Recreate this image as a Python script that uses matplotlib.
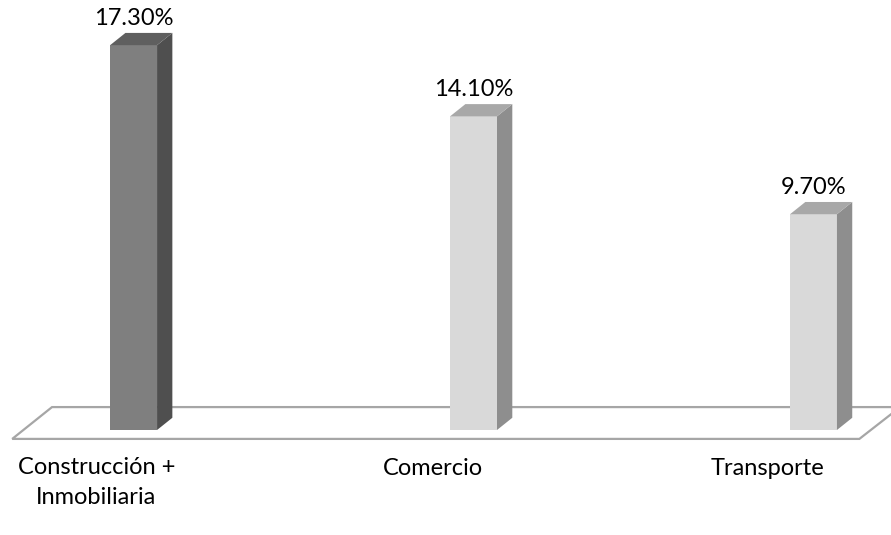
import matplotlib
matplotlib.use("Agg")
import matplotlib.pyplot as plt
from matplotlib.patches import Polygon

categories = ["Construcción +\nInmobiliaria", "Comercio", "Transporte"]
values = [17.30, 14.10, 9.70]
value_labels = ["17.30%", "14.10%", "9.70%"]
front_colors = ["#7f7f7f", "#d9d9d9", "#d9d9d9"]
side_colors = ["#4f4f4f", "#8e8e8e", "#8e8e8e"]
top_colors = ["#5f5f5f", "#a8a8a8", "#a8a8a8"]

W, H = 891, 535
fig = plt.figure(figsize=(W / 100, H / 100), dpi=100)
ax = fig.add_axes([0, 0, 1, 1])
ax.set_xlim(-0.393, 2.228)
ax.set_ylim(-4.72, 19.33)
ax.axis("off")

bar_w = 0.138   # width of the front face (category units)
dx, dy = 0.045, 0.55  # oblique depth offset

# floor parallelogram
floor = Polygon([(-0.357, -0.40), (2.135, -0.40), (2.255, 1.03), (-0.24, 1.03)],
                closed=True, facecolor="white", edgecolor="#a6a6a6", lw=1.6, zorder=1)
ax.add_patch(floor)

font = ["Lato", "DejaVu Sans"]
fs = 17
for i, (v, lab) in enumerate(zip(values, value_labels)):
    x0 = i - bar_w / 2
    x1 = i + bar_w / 2
    # front face
    ax.bar(i, v, width=bar_w, bottom=0, color=front_colors[i], edgecolor="none", zorder=3)
    # side face
    ax.add_patch(Polygon([(x1, 0), (x1 + dx, dy), (x1 + dx, v + dy), (x1, v)],
                         closed=True, facecolor=side_colors[i], edgecolor="none", zorder=3))
    # top face
    ax.add_patch(Polygon([(x0, v), (x0 + dx, v + dy), (x1 + dx, v + dy), (x1, v)],
                         closed=True, facecolor=top_colors[i], edgecolor="none", zorder=3))
    ax.text(i, v + 1.2, lab, ha="center", va="center", fontsize=fs,
            family=font, color="#000000", zorder=4)

# category labels below the floor; first line of each sits on the same row
label_x = [-0.11, -0.12, -0.135]
for i, c in enumerate(categories):
    if "\n" in c:
        ax.text(i + label_x[i], -1.2, c, ha="center", va="top", fontsize=fs,
                family=font, color="#000000", linespacing=1.55)
    else:
        ax.text(i + label_x[i], -1.62, c, ha="center", va="center_baseline",
                fontsize=fs, family=font, color="#000000")

fig.savefig("out.png", dpi=100)
